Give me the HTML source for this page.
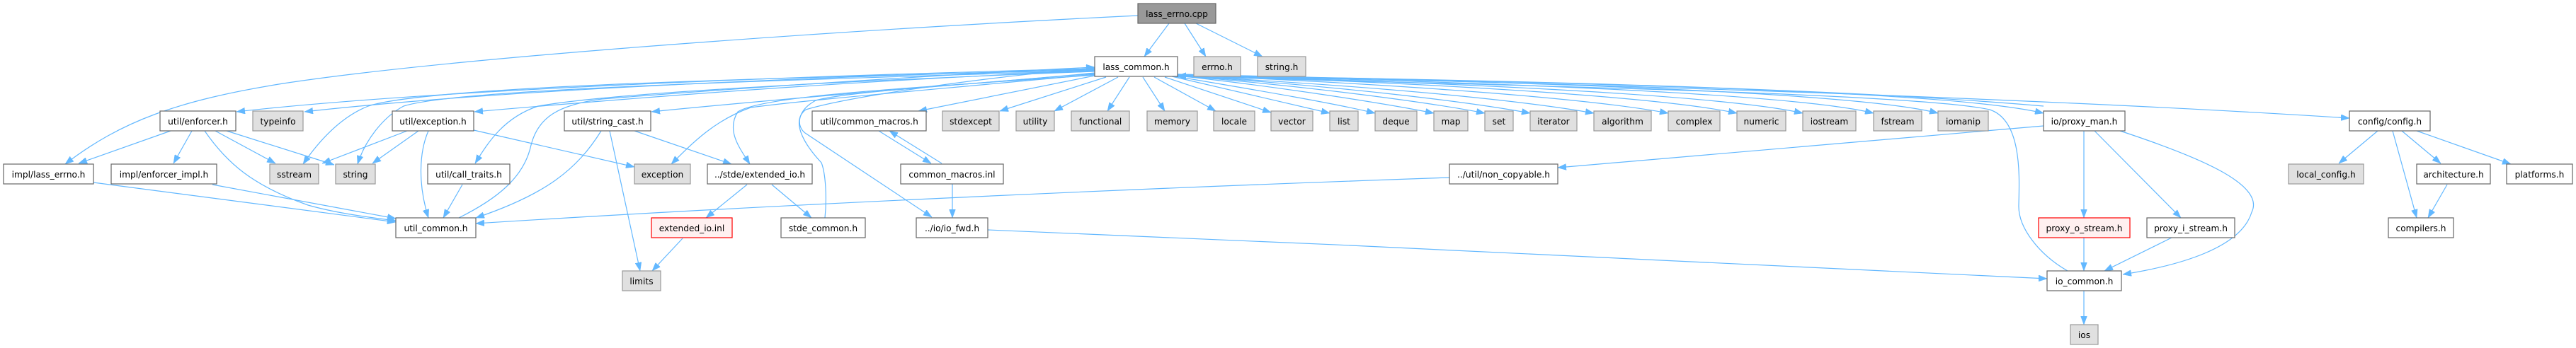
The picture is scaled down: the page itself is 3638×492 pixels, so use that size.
<!DOCTYPE html>
<html><head><meta charset="utf-8"><style>
html,body{margin:0;padding:0;background:#fff;}
svg{display:block;}
text{font-family:"DejaVu Sans","Liberation Sans",sans-serif;font-size:12.2px;fill:#000;text-anchor:middle;}
.w{fill:#fff;stroke:#666;stroke-width:1.2;}
.g{fill:#e0e0e0;stroke:#999;stroke-width:1.2;}
.r{fill:#fff0f0;stroke:#f00;stroke-width:1.2;}
.m{fill:#999;stroke:#666;stroke-width:1.2;}
.e{fill:none;stroke:#63b8ff;stroke-width:1.2;marker-end:url(#a);}
.n{fill:none;stroke:#63b8ff;stroke-width:1.2;}
</style></head><body>
<svg width="3638" height="492" viewBox="0 0 3638 492" xmlns="http://www.w3.org/2000/svg">
<defs><marker id="a" markerUnits="userSpaceOnUse" markerWidth="12" markerHeight="9" refX="12" refY="4.5" orient="auto"><path d="M0,0 L12,4.5 L0,9 z" fill="#63b8ff" stroke="#63b8ff" stroke-width="0.5"/></marker></defs>
<rect width="3638" height="492" fill="#fff"/>
<!-- edges -->
<g>
<path class="e" d="M1651,33 L1616,80"/>
<path class="e" d="M1673,33 L1703,80"/>
<path class="e" d="M1689,33 L1783,80"/>
<path class="e" d="M1607,22 C1200,42 650,80 400,118 C250,142 170,172 92,232"/>
<path class="e" d="M1546,97 C1100,108 600,128 334,158"/>
<path class="e" d="M1546,98 C1100,110 700,128 430,158"/>
<path class="e" d="M1546,99 C1000,112 600,124 520,150 C480,166 450,200 428,232"/>
<path class="e" d="M1546,100 C1000,116 640,128 570,150 C540,166 515,200 505,232"/>
<path class="e" d="M1546,100 C1200,114 900,138 670,158"/>
<path class="e" d="M1546,104 C1300,124 1100,140 920,158"/>
<path class="e" d="M1546,101 C1100,118 850,134 760,150 C712,166 690,200 671,231"/>
<path class="e" d="M1546,105 C1350,124 1150,140 1060,152 C1010,170 980,200 948,232"/>
<path class="e" d="M1546,106 C1300,124 1080,134 1042,158 C1025,185 1045,210 1059,232"/>
<path class="e" d="M648,308 C700,282 740,252 750,205 C760,165 790,148 850,140 C1100,120 1400,102 1546,95"/>
<path class="e" d="M1165,308 C1168,280 1166,245 1160,230 C1132,200 1118,170 1138,155 C1200,136 1400,108 1546,96"/>
<path class="e" d="M1546,103 C1400,118 1200,128 1152,142 C1126,156 1124,178 1137,188 L1316,307"/>
<path class="e" d="M1546,107 L1297,157"/>
<path class="e" d="M1562,109 L1412,157"/>
<path class="e" d="M1579,109 L1489,157"/>
<path class="e" d="M1595,109 L1564,157"/>
<path class="e" d="M1614,109 L1645,157"/>
<path class="e" d="M1630,109 L1717,157"/>
<path class="e" d="M1645,109 L1795,159"/>
<path class="e" d="M1655,108 L1878,160"/>
<path class="e" d="M1660,108 C1760,125 1880,145 1942,160"/>
<path class="e" d="M1663,107 C1800,122 1950,145 2025,160"/>
<path class="e" d="M1663,107 C1850,122 2020,145 2097,160"/>
<path class="e" d="M1663,107 C1900,122 2080,145 2161,160"/>
<path class="e" d="M1663,107 C1950,122 2150,142 2251,160"/>
<path class="e" d="M1663,106 C2000,120 2250,140 2356,160"/>
<path class="e" d="M1663,106 C2050,118 2350,138 2453,160"/>
<path class="e" d="M1663,106 C2100,118 2440,136 2546,160"/>
<path class="e" d="M1663,106 C2150,117 2540,134 2646,160"/>
<path class="e" d="M1663,106 C2200,116 2630,132 2737,160"/>
<path class="e" d="M1663,105 C2250,118 2750,128 2886,160"/>
<path class="e" d="M1663,105 C2300,120 2900,140 3318,167"/>
<path class="e" d="M2920,383 C2880,360 2850,322 2851,290 C2852,250 2856,170 2810,155 C2700,130 2000,118 1663,108"/>
<path class="e" d="M2886,150 C2600,125 2100,112 1663,107"/>
<path class="e" d="M2886,178 L2200,237"/>
<path class="e" d="M2047,251 C1500,270 1000,295 672,316"/>
<path class="e" d="M1395,325 C1900,345 2500,375 2891,394"/>
<path class="e" d="M2943,184 L2943,308"/>
<path class="e" d="M2957,184 L3080,308"/>
<path class="e" d="M2994,185 C3100,220 3200,260 3180,300 C3165,350 3080,375 2998,388"/>
<path class="e" d="M2943,336 L2943,383"/>
<path class="e" d="M3067,336 L2972,383"/>
<path class="e" d="M2943,411 L2943,459"/>
<path class="e" d="M3358,185 L3303,231"/>
<path class="e" d="M3379,185 L3413,308"/>
<path class="e" d="M3392,185 L3447,231"/>
<path class="e" d="M3413,185 L3546,232"/>
<path class="e" d="M3456,261 L3429,308"/>
<path class="e" d="M1241,185 L1315,231"/>
<path class="e" d="M1330,231 L1256,185"/>
<path class="e" d="M1345,260 L1345,308"/>
<path class="e" d="M241,185 L111,231"/>
<path class="e" d="M271,185 L245,231"/>
<path class="e" d="M289,185 C320,230 356,262 435,290 C470,300 510,306 559,312"/>
<path class="e" d="M304,185 L389,231"/>
<path class="e" d="M320,185 L472,233"/>
<path class="e" d="M132,258 L559,314"/>
<path class="e" d="M300,261 L559,309"/>
<path class="e" d="M575,185 L455,231"/>
<path class="e" d="M591,185 L526,231"/>
<path class="e" d="M605,185 C592,215 590,260 605,308"/>
<path class="e" d="M669,184 L896,236"/>
<path class="e" d="M653,261 L626,308"/>
<path class="e" d="M849,185 C815,240 770,275 672,308"/>
<path class="e" d="M861,185 L904,383"/>
<path class="e" d="M896,185 L1033,232"/>
<path class="e" d="M1055,261 L997,308"/>
<path class="e" d="M1090,261 L1146,308"/>
<path class="e" d="M964,337 L921,383"/>
</g>
<!-- nodes -->
<g>
<rect class="m" x="1607" y="5" width="110" height="28"/><text x="1662" y="24">lass_errno.cpp</text>
<rect class="w" x="1546" y="80" width="117" height="28"/><text x="1604.5" y="99">lass_common.h</text>
<rect class="g" x="1686" y="80" width="66" height="28"/><text x="1719" y="99">errno.h</text>
<rect class="g" x="1776" y="80" width="68" height="28"/><text x="1810" y="99">string.h</text>

<rect class="w" x="226" y="157" width="107" height="28"/><text x="279.5" y="176">util/enforcer.h</text>
<rect class="g" x="357" y="157" width="71" height="28"/><text x="392.5" y="176">typeinfo</text>
<rect class="w" x="554" y="157" width="115" height="28"/><text x="611.5" y="176">util/exception.h</text>
<rect class="w" x="797" y="157" width="122" height="28"/><text x="858" y="176">util/string_cast.h</text>
<rect class="w" x="1147" y="157" width="161" height="28"/><text x="1227.5" y="176">util/common_macros.h</text>
<rect class="g" x="1331" y="157" width="80" height="28"/><text x="1371" y="176">stdexcept</text>
<rect class="g" x="1435" y="157" width="54" height="28"/><text x="1462" y="176">utility</text>
<rect class="g" x="1513" y="157" width="82" height="28"/><text x="1554" y="176">functional</text>
<rect class="g" x="1620" y="157" width="71" height="28"/><text x="1655.5" y="176">memory</text>
<rect class="g" x="1714" y="157" width="58" height="28"/><text x="1743" y="176">locale</text>
<rect class="g" x="1795" y="157" width="59" height="28"/><text x="1824.5" y="176">vector</text>
<rect class="g" x="1878" y="157" width="40" height="28"/><text x="1898" y="176">list</text>
<rect class="g" x="1942" y="157" width="59" height="28"/><text x="1971.5" y="176">deque</text>
<rect class="g" x="2025" y="157" width="48" height="28"/><text x="2049" y="176">map</text>
<rect class="g" x="2097" y="157" width="40" height="28"/><text x="2117" y="176">set</text>
<rect class="g" x="2161" y="157" width="66" height="28"/><text x="2194" y="176">iterator</text>
<rect class="g" x="2251" y="157" width="81" height="28"/><text x="2291.5" y="176">algorithm</text>
<rect class="g" x="2356" y="157" width="73" height="28"/><text x="2392.5" y="176">complex</text>
<rect class="g" x="2453" y="157" width="69" height="28"/><text x="2487.5" y="176">numeric</text>
<rect class="g" x="2546" y="157" width="75" height="28"/><text x="2583.5" y="176">iostream</text>
<rect class="g" x="2646" y="157" width="68" height="28"/><text x="2680" y="176">fstream</text>
<rect class="g" x="2737" y="157" width="71" height="28"/><text x="2772.5" y="176">iomanip</text>
<rect class="w" x="2886" y="157" width="115" height="28"/><text x="2943.5" y="176">io/proxy_man.h</text>
<rect class="w" x="3318" y="157" width="114" height="28"/><text x="3375" y="176">config/config.h</text>

<rect class="w" x="5" y="232" width="127" height="28"/><text x="68.5" y="251">impl/lass_errno.h</text>
<rect class="w" x="157" y="232" width="149" height="28"/><text x="231.5" y="251">impl/enforcer_impl.h</text>
<rect class="g" x="381" y="232" width="69" height="28"/><text x="415.5" y="251">sstream</text>
<rect class="g" x="474" y="232" width="56" height="28"/><text x="502" y="251">string</text>
<rect class="w" x="604" y="232" width="116" height="28"/><text x="662" y="251">util/call_traits.h</text>
<rect class="g" x="896" y="232" width="79" height="28"/><text x="935.5" y="251">exception</text>
<rect class="w" x="999" y="232" width="148" height="28"/><text x="1073" y="251">../stde/extended_io.h</text>
<rect class="w" x="1272" y="232" width="145" height="28"/><text x="1344.5" y="251">common_macros.inl</text>
<rect class="w" x="2047" y="232" width="153" height="28"/><text x="2123.5" y="251">../util/non_copyable.h</text>
<rect class="g" x="3232" y="232" width="106" height="28"/><text x="3285" y="251">local_config.h</text>
<rect class="w" x="3413" y="232" width="104" height="28"/><text x="3465" y="251">architecture.h</text>
<rect class="w" x="3540" y="232" width="93" height="28"/><text x="3586.5" y="251">platforms.h</text>

<rect class="w" x="559" y="308" width="113" height="28"/><text x="615.5" y="327">util_common.h</text>
<rect class="r" x="920" y="308" width="114" height="28"/><text x="977" y="327">extended_io.inl</text>
<rect class="w" x="1103" y="308" width="119" height="28"/><text x="1162.5" y="327">stde_common.h</text>
<rect class="w" x="1294" y="308" width="101" height="28"/><text x="1344.5" y="327">../io/io_fwd.h</text>
<rect class="r" x="2879" y="308" width="129" height="28"/><text x="2943.5" y="327">proxy_o_stream.h</text>
<rect class="w" x="3032" y="308" width="124" height="28"/><text x="3094" y="327">proxy_i_stream.h</text>
<rect class="w" x="3373" y="308" width="92" height="28"/><text x="3419" y="327">compilers.h</text>

<rect class="g" x="879" y="383" width="54" height="28"/><text x="906" y="402">limits</text>
<rect class="w" x="2891" y="383" width="105" height="28"/><text x="2943.5" y="402">io_common.h</text>

<rect class="g" x="2924" y="459" width="39" height="28"/><text x="2943.5" y="478">ios</text>
</g>
</svg>
</body></html>
